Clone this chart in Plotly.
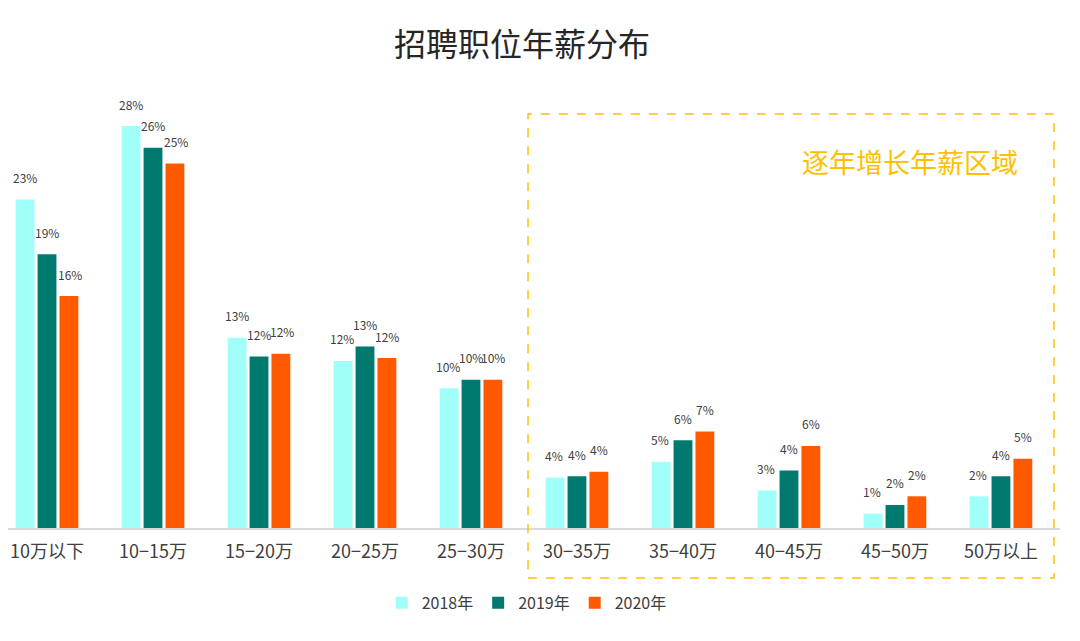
import plotly.graph_objects as go

categories = ["10万以下", "10−15万", "15−20万", "20−25万", "25−30万",
              "30−35万", "35−40万", "40−45万", "45−50万", "50万以上"]
series_names = ["2018年", "2019年", "2020年"]
v2018 = [22.8, 27.9, 13.2, 11.6, 9.7, 3.5, 4.6, 2.6, 1.0, 2.2]
v2019 = [19.0, 26.4, 11.9, 12.6, 10.3, 3.6, 6.1, 4.0, 1.6, 3.6]
v2020 = [16.1, 25.3, 12.1, 11.8, 10.3, 3.9, 6.7, 5.7, 2.2, 4.8]
colors = ["#A0FFF8", "#007A6E", "#FF5A00"]

font_family = "Noto Sans CJK SC, Noto Sans, sans-serif"

fig = go.Figure()
all_vals = [v2018, v2019, v2020]
for name, vals, col in zip(series_names, all_vals, colors):
    fig.add_trace(go.Bar(
        x=categories, y=vals, name=name,
        marker=dict(color=col, line=dict(width=0)),
    ))

# value labels above bars
for i, vals in enumerate(all_vals):
    for cat, v in zip(categories, vals):
        fig.add_annotation(
            x=cat, y=v, xref="x", yref="y",
            text=f"{round(v):d}%", showarrow=False,
            xshift=(i - 1) * 22.5, yshift=22, yanchor="middle",
            font=dict(size=12, color="#404040", family=font_family),
        )

fig.update_layout(
    width=1072, height=633,
    paper_bgcolor="white", plot_bgcolor="white",
    margin=dict(l=0, r=20, t=72, b=113),
    barmode="group", bargap=0.38, bargroupgap=0.14,
    title=dict(text="招聘职位年薪分布", x=0.4795, xanchor="center",
               y=1 - 37 / 633, yanchor="middle",
               font=dict(size=32, color="#262626", family=font_family)),
    font=dict(family=font_family, color="#404040"),
    legend=dict(orientation="h", x=0.493, xanchor="center", y=-0.167, yanchor="middle",
                font=dict(size=16, color="#404040"), itemwidth=30,
                traceorder="normal"),
)
fig.update_xaxes(
    range=[-0.368, 9.557], showline=True, linecolor="#D9D9D9", linewidth=2,
    ticks="", tickfont=dict(size=18, color="#404040"), showgrid=False,
    ticklabelstandoff=6,
)
fig.update_yaxes(range=[0, 31.1], visible=False, showgrid=False)

fig.add_shape(type="rect", xref="x", yref="paper",
              x0=4.538, x1=9.5, y0=-0.1116, y1=0.924,
              line=dict(color="#FFC000", width=1.5, dash="dash"),
              fillcolor="rgba(0,0,0,0)", layer="above")
fig.add_annotation(text="逐年增长年薪区域", xref="x", yref="paper",
                   x=8.14, y=0.817, yanchor="middle", showarrow=False,
                   font=dict(size=27, color="#FFC000", family=font_family))

fig.write_html("out.html")
